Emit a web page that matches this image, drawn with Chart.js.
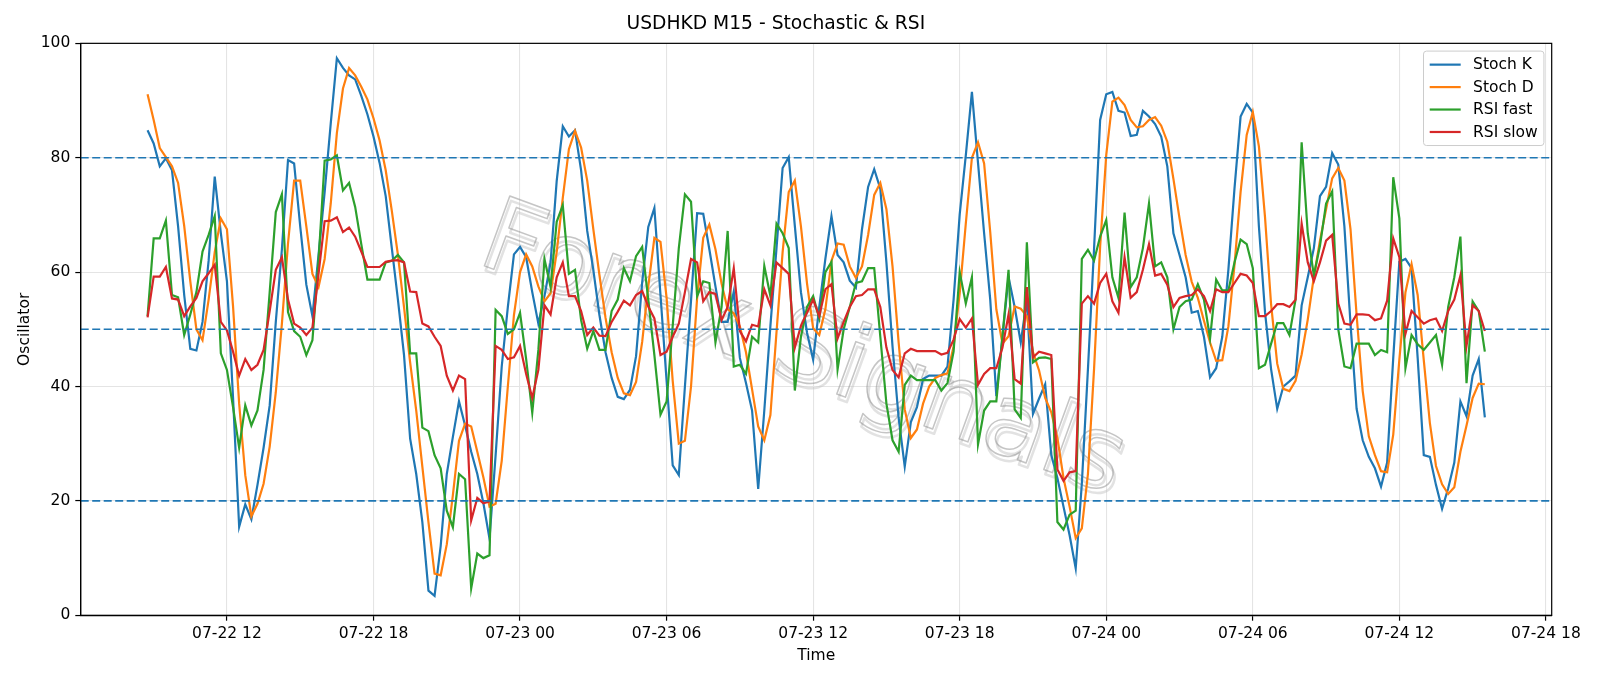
<!DOCTYPE html>
<html><head><meta charset="utf-8">
<script src="https://cdn.jsdelivr.net/npm/chart.js@4.4.1/dist/chart.umd.min.js"></script>
<style>html,body{margin:0;padding:0;background:#fff}#wrap{width:1600px;height:686px}</style>
</head><body><div id="wrap"><canvas id="c" width="1600" height="686"></canvas></div>
<script>
// ---- data (15-minute bars, first bar 07-22 08:45) ----
const firstBar = {year: 2024, month: 7, day: 22, hour: 8, minute: 45};
const barMinutes = 15;
const stochK = [
84.8,82.5,78.5,79.9,77.8,68,56,46.6,46.3,51.3,
62,76.7,66.8,58.4,38,15.5,19.4,16.8,22.8,29.3,
36.7,51.3,64,79.6,79,68,57.8,52.3,63,74,
86,97.4,95.7,94.4,93.7,90.8,87.6,83.7,79.1,73.3,
64.2,55.2,45.5,30.9,24.7,16.3,4.3,3.4,12.1,24.7,
31.2,37.4,33.2,28.6,24.7,19.6,13.4,28,43.5,53.9,
63.1,64.4,62.6,56.5,51,55.8,61.7,75.9,85.5,83.7,
84.8,77.8,67.2,60.4,52.5,46,41.5,38.2,37.8,39.4,
45.3,58.2,67.9,71.2,56,41,26.2,24.5,40,55,
70.3,70.2,64,57.5,51.3,51.3,56.6,45,40.6,35.8,
22.1,35.8,50.6,64.2,78.2,80.1,68.1,56.5,49.4,44.7,
53.9,62.3,69.8,63,61.7,58.5,57.3,67.5,74.9,78,
74.6,61.7,47,34.5,26,33.8,36.4,41.3,41.9,41.9,
41.9,43.5,55.2,70.1,80.4,91.5,79.1,66.8,55.2,38.3,
48.7,59.1,53.9,47.7,55.2,35.2,37.9,40.4,28,24,
19,14,8.2,23,43,64,86.6,91.1,91.5,88.2,
87.9,83.8,84,88.2,87.2,85.9,83.7,78.5,66.8,63,
59.1,52.9,53.2,48.7,41.6,43.2,48.7,60.4,74.6,87.2,
89.4,87.9,68,53,43,36.1,40,40.9,41.9,54.2,
59.1,64.2,73.3,74.9,80.8,78.8,68,51,36.1,30.6,
27.7,25.7,22.5,26.7,45,61.8,62.3,60.7,45,28,
27.7,22.8,18.6,22.2,26.7,37.4,34.8,41.9,44.8,34.6];
const stochD = [
91.1,86.6,81.7,80.1,78.5,75.6,68.1,58.4,50,48.1,
55.2,63.5,69.4,67.5,54,37,24.5,17.3,19.5,23,
29.5,39,51,65,76,76,68,59.7,57.4,62.3,
72,84.3,92.1,95.7,94.4,92.4,90.2,86.9,83,77.8,
70.7,63,53.9,44.2,35.8,26,16.3,7.3,7,12.4,
21,30.5,33.5,33,28.6,24.1,19,19.5,27,40,
52.5,60,63.1,61,57.5,54.9,56.3,63.5,73,81.5,
84.7,81.8,76,67.5,59.5,52,46,41.5,38.8,38.5,
40.8,47.8,57.5,66,65.3,55.5,41,30,30.5,40,
55.5,66,68.3,64,58,53.5,52.8,50.5,46,39.5,
33,30.6,35,49.5,63.5,74,76,68,58,50.2,
49,53.5,62,65,64.8,61,59,61,66.5,73.5,
75.6,71,61,47.7,36,31,32.5,37,40,41.5,
42,42.3,47,56.3,68.5,80,82.7,79,67,53.5,
47.5,48.8,54,53.6,52.3,46,42.8,38,35.5,31,
24,19,13.5,15.2,24.7,43,64.5,80.5,89.8,90.5,
89.2,86.6,85.3,85.5,86.6,87.1,85.6,82.8,76.3,69.4,
63,58.3,55.5,51.5,47.7,44.5,44.6,50.5,61.2,74,
84,88,82,69.6,54.3,44,39.6,39.2,41,45.6,
51.7,59.2,65.5,71,76.4,78.2,76,67.5,52.5,39.2,
31.3,28,25.2,25,31.6,44.7,56.5,61.4,56,44.6,
33.6,26.1,22.9,21.2,22.4,28.6,33.2,38,40.5,40.4];
const rsiFast = [
52.3,65.9,65.9,69,56,55.6,49,52.6,56.5,63.6,
66.5,69.8,45.8,42.9,36.4,29.3,36.7,33.2,35.8,42.9,
56.5,70.5,73.6,53,49.7,48.7,45.5,48.1,62,79.5,
79.7,80.4,74.3,75.6,71.4,64.9,58.7,58.7,58.7,61.7,
62,63,61.7,45.8,45.8,32.8,32.2,28,25.7,18.3,
15.4,24.7,23.8,4.7,10.8,10,10.5,53.4,52.3,49.2,
50,52.9,44.8,35.4,46.4,62.3,57.4,68.8,71.7,59.7,
60.4,51.6,46.6,49.7,46.4,46.4,53.2,55.2,60.7,58.4,
62.8,64.4,55.2,45.5,35.1,37.4,50.6,64.2,73.6,72.3,
55.8,58.4,58.1,47.7,53.9,67.2,43.5,43.8,42.2,48.7,
47.7,61.1,55.8,68.5,66.8,64.2,39.3,48.7,53.9,55.8,
51.9,60,61.8,43,50,53.9,58.1,58.4,60.7,60.7,
48.7,37,30.6,28.6,40.3,41.9,41.1,41.1,41.1,41.1,
39.3,40.6,46.1,60,54.5,59.1,29.9,35.8,37.4,37.4,
48.7,60.4,36,34.5,65.2,44.2,45,45.1,44.8,16.3,
15,17.6,18.3,62.3,63.9,62,66.2,69.1,59.1,55.5,
70.4,57.4,59.1,64.2,72,61,61.7,59.1,50,53.9,
54.9,55.2,57.9,55.2,48.4,58.7,56.8,56.8,61.7,65.7,
64.9,60.7,43.2,43.8,47.5,51.1,51.1,49,55.2,82.7,
66.8,59.4,64.6,72,74.1,50,43.5,43.2,47.5,47.5,
47.5,45.5,46.4,46,76.6,69.4,43.2,49,47.4,46.4,
47.7,49,43.8,53.9,59.1,66.2,40.6,54.9,53.2,46.1];
const rsiSlow = [
52.1,59.2,59.2,60.9,55.4,55.2,52.3,54,55.5,58.4,
59.8,61.3,51.3,49.8,46.1,41.9,44.8,42.9,43.8,46.4,
53.2,60.4,62.6,55.2,51,50.3,49,50.3,59.7,68.9,
69,69.6,67,67.8,66.2,63.6,60.9,60.9,60.9,61.8,
62,62.1,61.7,56.6,56.5,51,50.5,48.7,47.1,41.9,
39.3,41.9,41.3,16.6,20.5,19.6,19.9,47.1,46.4,44.8,
45.1,47.1,42.2,38,42.9,54.2,52.6,59.1,61.7,55.8,
55.8,53.2,49,50.3,48.9,48.8,51.3,53.1,55,54.2,
56,56.7,54,51.9,45.5,46.1,48.7,51,56.5,62.3,
61.7,54.9,56.5,56.2,51.6,53.9,60.7,49.7,47.9,50.8,
50.5,57,54.2,61.7,60.7,59.7,46.8,50.6,52.9,55.2,
52.3,57,57.9,48.4,51.3,53.9,55.8,56,57,57,
53.9,46.8,42.9,41.6,45.8,46.6,46.2,46.2,46.2,46.2,
45.6,45.9,48.2,51.8,50.3,51.9,40.3,42.2,43.2,43.2,
46.8,52.6,41.3,40.5,57.4,45.1,46.1,45.8,45.5,25.5,
23.5,25,25.2,54.5,55.8,54.5,58.1,59.7,54.9,52.9,
62.6,55.5,56.5,60.4,64.9,59.4,59.7,57.8,53.9,55.5,
55.8,56,57,55.8,53.2,57,56.5,56.5,58.1,59.7,
59.4,58.1,52.3,52.3,53.2,54.4,54.4,53.9,55.2,68.5,
61.7,58.4,61.7,65.5,66.5,54.5,51,50.8,52.6,52.6,
52.5,51.6,51.9,55,65.9,62.6,49.2,53.2,52.1,51,
51.6,51.9,49.7,53.2,55.2,59.4,47.1,54.2,53.2,49.7];
const xTickLabels = ['07-22 12','07-22 18','07-23 00','07-23 06','07-23 12','07-23 18','07-24 00','07-24 06','07-24 12','07-24 18'];
const yTickValues = [0, 20, 40, 60, 80, 100];
const refLevels = [20, 50, 80];
const seriesNames = ['Stoch K', 'Stoch D', 'RSI fast', 'RSI slow'];
const watermarkText = 'Forex Signals';

// ---- build ----
const FONT = '"DejaVu Sans", "Liberation Sans", sans-serif';
const n = stochK.length;
const startMs = Date.UTC(firstBar.year, firstBar.month - 1, firstBar.day, firstBar.hour, firstBar.minute);
const tickIndex = xTickLabels.map(l => {
  const m = +l.slice(0, 2), d = +l.slice(3, 5), h = +l.slice(6, 8);
  return (Date.UTC(firstBar.year, m - 1, d, h, 0) - startMs) / (barMinutes * 60000);
});
const margin = (n - 1) * 0.05;
const xmin = -margin, xmax = (n - 1) + margin;
const toXY = arr => arr.map((v, i) => ({x: i, y: v}));
const colors = ['#1f77b4', '#ff7f0e', '#2ca02c', '#d62728'];
const seriesData = [stochK, stochD, rsiFast, rsiSlow];

const datasets = seriesData.map((arr, k) => ({
  label: seriesNames[k], data: toXY(arr), borderColor: colors[k], backgroundColor: colors[k],
  borderWidth: 2.2, pointRadius: 0, tension: 0, fill: false, order: 10 - k
}));
refLevels.forEach(l => datasets.push({
  label: 'level ' + l, isRef: true, data: [{x: xmin, y: l}, {x: xmax, y: l}],
  borderColor: '#1f77b4', borderWidth: 1.6, borderDash: [8, 3.5], pointRadius: 0, fill: false, order: 0
}));

const watermarkPlugin = {
  id: 'watermark',
  beforeDatasetsDraw(chart) {
    const {ctx, chartArea: a} = chart;
    ctx.save();
    ctx.translate((a.left + a.right) / 2 - 14, (a.top + a.bottom) / 2 + 24);
    ctx.rotate(20 * Math.PI / 180);
    ctx.font = '102px ' + FONT;
    ctx.textAlign = 'center'; ctx.textBaseline = 'middle';
    ctx.lineJoin = 'round';
    ctx.strokeStyle = 'rgba(190,190,190,0.45)'; ctx.lineWidth = 2.5;
    ctx.strokeText(watermarkText, 3, 4);
    ctx.strokeStyle = 'rgba(140,140,140,0.5)'; ctx.lineWidth = 1.5;
    ctx.strokeText(watermarkText, 0, 0);
    ctx.restore();
  }
};

const framePlugin = {
  id: 'frame',
  afterDatasetsDraw(chart) {
    const {ctx, chartArea: a} = chart;
    ctx.save();
    ctx.strokeStyle = '#000'; ctx.lineWidth = 1.2;
    ctx.strokeRect(a.left, a.top, a.right - a.left, a.bottom - a.top);
    ctx.restore();
  }
};

const legendPlugin = {
  id: 'mplLegend',
  afterDatasetsDraw(chart) {
    const {ctx, chartArea: a} = chart;
    const fs = 15.5;
    const items = chart.data.datasets.filter(d => !d.isRef);
    ctx.save();
    ctx.font = fs + 'px ' + FONT;
    const tw = Math.max(...items.map(d => ctx.measureText(d.label).width));
    const pad = 0.4 * fs, hl = 2 * fs, htp = 0.8 * fs, ls = 0.5 * fs, bap = 0.5 * fs, rowH = 14.7;
    const w = pad * 2 + hl + htp + tw;
    const h = pad * 2 + items.length * rowH + (items.length - 1) * ls;
    const x0 = a.right - bap - w, y0 = a.top + bap, r = 3;
    ctx.beginPath();
    ctx.moveTo(x0 + r, y0); ctx.lineTo(x0 + w - r, y0); ctx.arcTo(x0 + w, y0, x0 + w, y0 + r, r);
    ctx.lineTo(x0 + w, y0 + h - r); ctx.arcTo(x0 + w, y0 + h, x0 + w - r, y0 + h, r);
    ctx.lineTo(x0 + r, y0 + h); ctx.arcTo(x0, y0 + h, x0, y0 + h - r, r);
    ctx.lineTo(x0, y0 + r); ctx.arcTo(x0, y0, x0 + r, y0, r); ctx.closePath();
    ctx.fillStyle = 'rgba(255,255,255,0.8)'; ctx.fill();
    ctx.strokeStyle = '#cccccc'; ctx.lineWidth = 1; ctx.stroke();
    items.forEach((d, k) => {
      const cy = y0 + pad + k * (rowH + ls) + rowH / 2;
      ctx.beginPath(); ctx.strokeStyle = d.borderColor; ctx.lineWidth = 2.2;
      ctx.moveTo(x0 + pad, cy); ctx.lineTo(x0 + pad + hl, cy); ctx.stroke();
      ctx.fillStyle = '#000'; ctx.textBaseline = 'middle'; ctx.textAlign = 'left';
      ctx.fillText(d.label, x0 + pad + hl + htp, cy + 0.5);
    });
    ctx.restore();
  }
};

new Chart(document.getElementById('c'), {
  type: 'line',
  data: {datasets},
  options: {
    responsive: false, animation: false, events: [],
    layout: {padding: {left: 0, right: 48.3, top: 0, bottom: 0}},
    plugins: {
      legend: {display: false}, tooltip: {enabled: false},
      title: {display: true, text: 'USDHKD M15 - Stochastic & RSI', color: '#000',
        font: {family: FONT, size: 18.7, weight: 'normal'}, padding: {top: 13.1, bottom: 7.8}}
    },
    scales: {
      x: {
        type: 'linear', min: xmin, max: xmax,
        afterBuildTicks: s => { s.ticks = tickIndex.map(v => ({value: v})); },
        afterFit: s => { s.height = 70.7; },
        ticks: {autoSkip: false, maxRotation: 0, color: '#000', padding: 4,
          font: {family: FONT, size: 15.5},
          callback: v => { const k = tickIndex.indexOf(v); return k >= 0 ? xTickLabels[k] : ''; }},
        grid: {color: '#e4e4e4', lineWidth: 1.1, tickColor: '#000', tickLength: 5.4, tickWidth: 1.2},
        border: {color: '#000', width: 1.2},
        title: {display: true, text: 'Time', color: '#000', font: {family: FONT, size: 15.5}, padding: {top: 0, bottom: 20.7}}
      },
      y: {
        min: 0, max: 100,
        afterBuildTicks: s => { s.ticks = yTickValues.map(v => ({value: v})); },
        afterFit: s => { s.width = 80.7; },
        ticks: {color: '#000', padding: 5, font: {family: FONT, size: 15.5}},
        grid: {color: '#e4e4e4', lineWidth: 1.1, tickColor: '#000', tickLength: 5.4, tickWidth: 1.2},
        border: {color: '#000', width: 1.2},
        title: {display: true, text: 'Oscillator', color: '#000', font: {family: FONT, size: 15.5}, padding: {top: 15.2, bottom: 0}}
      }
    }
  },
  plugins: [watermarkPlugin, framePlugin, legendPlugin]
});
</script></body></html>
